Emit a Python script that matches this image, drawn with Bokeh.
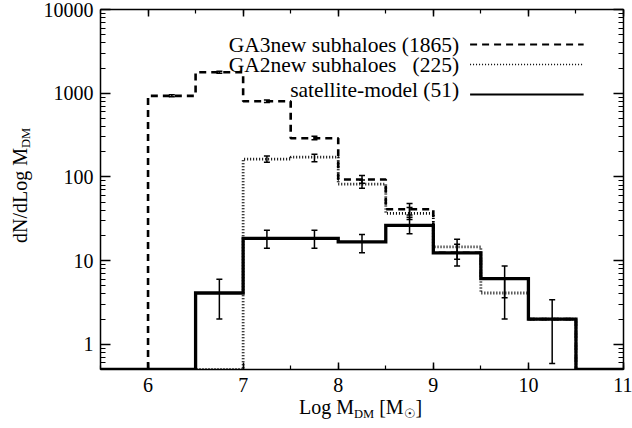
import numpy as np
from bokeh.plotting import figure
from bokeh.layouts import row, column
from bokeh.models import (LinearAxis, LogAxis, Range1d, SingleIntervalTicker, LogTicker,
                          CustomJSTickFormatter, Whisker, TeeHead, ColumnDataSource, Label, Div)
from bokeh.embed import file_html
from bokeh.resources import INLINE

# ---------------- data ----------------
edges = [5.5, 6.0, 6.5, 7.0, 7.5, 8.0, 8.5, 9.0, 9.5, 10.0, 10.5, 11.0]
ga3_values = [0, 930, 1780, 800, 290, 93, 41, 12.4, 6.1, 2.0, 0]
ga2_values = [0, 0, 0, 163, 172, 82, 36.6, 14.6, 4.1, 2.0, 0]
sat_values = [0, 0, 4.1, 18.4, 18.4, 16.7, 26.3, 12.4, 6.1, 2.0, 0]

ga3_err_x = [6.25, 6.75, 7.25, 7.75, 8.25, 8.75]
ga3_err_lo = [905, 1735, 775, 277, 84, 35]
ga3_err_hi = [960, 1830, 830, 305, 104, 48]

ga2_err_x = [7.25, 7.75, 8.25, 8.75, 9.25, 9.75]
ga2_err_lo = [150, 152, 73, 31, 10.4, 2.0]
ga2_err_hi = [178, 187, 92, 43, 18.0, 6.2]

sat_err_x = [6.75, 7.25, 7.75, 8.25, 8.75, 9.25, 9.75, 10.25]
sat_err_lo = [2.0, 14.0, 14.0, 12.4, 21.0, 8.6, 3.6, 0.59]
sat_err_hi = [6.0, 23.1, 23.1, 20.5, 33.0, 15.7, 8.6, 3.4]

legend_labels = ["GA3new subhaloes (1865)",
                 "GA2new subhaloes\u00a0\u00a0 (225)",
                 "satellite-model (51)"]
x_ticks_interval = 1
YMIN, YMAX = 0.5, 10000
XMIN, XMAX = 5.5, 11.0

FONT = "Liberation Serif"

# page geometry (figure starts at page x = 40)
YDIV_W = 40
FIG_W, FIG_H = 592, 400
FRAME_L, FRAME_R, FRAME_T, FRAME_B = 98, 623, 9, 369

# ---------------- figure ----------------
p = figure(width=FIG_W, height=FIG_H, x_range=Range1d(XMIN, XMAX), y_range=Range1d(YMIN, YMAX),
           y_axis_type="log", output_backend="svg", toolbar_location=None,
           min_border_left=FRAME_L - YDIV_W, min_border_right=YDIV_W + FIG_W - FRAME_R,
           min_border_top=FRAME_T, min_border_bottom=FIG_H - FRAME_B)
p.grid.visible = False
p.outline_line_color = None
p.background_fill_color = "white"
p.border_fill_color = "white"


def step_y(vals):
    v = [x if x > 0 else YMIN for x in vals]
    return v + [v[-1]]


p.step(x=edges, y=step_y(ga3_values), mode="after", line_color="black",
       line_width=2.6, line_dash="7 5")
p.step(x=edges, y=step_y(ga2_values), mode="after", line_color="black",
       line_width=2.8, line_dash="1 2")
p.step(x=edges, y=step_y(sat_values), mode="after", line_color="black",
       line_width=3.3, line_join="miter")

for ex, lo, hi in [(ga3_err_x, ga3_err_lo, ga3_err_hi),
                   (ga2_err_x, ga2_err_lo, ga2_err_hi),
                   (sat_err_x, sat_err_lo, sat_err_hi)]:
    src = ColumnDataSource(dict(x=ex, lo=lo, hi=hi))
    w = Whisker(source=src, base="x", lower="lo", upper="hi", dimension="height",
                line_color="black", line_width=1.5,
                upper_head=TeeHead(size=6, line_width=1.5, line_color="black"),
                lower_head=TeeHead(size=6, line_width=1.5, line_color="black"))
    p.add_layout(w)

# ---------------- axes ----------------
def style_axis(ax, major_in, minor_in):
    ax.axis_line_width = 1.5
    ax.axis_line_color = "black"
    ax.major_tick_line_width = 1.5
    ax.minor_tick_line_width = 1.2
    ax.major_tick_in = major_in
    ax.major_tick_out = 0
    ax.minor_tick_in = minor_in
    ax.minor_tick_out = 0
    ax.major_label_text_font = FONT
    ax.major_label_text_font_size = "20px"
    ax.major_label_text_color = "black"


xax = p.xaxis[0]
xax.ticker = SingleIntervalTicker(interval=x_ticks_interval, num_minor_ticks=2)
style_axis(xax, 7, 4)
xax.major_label_standoff = 8

yax = p.yaxis[0]
yax.ticker = LogTicker(mantissas=[1], num_minor_ticks=10)
yax.formatter = CustomJSTickFormatter(code="return String(Math.round(tick))")
style_axis(yax, 10, 5)
yax.major_label_standoff = 7

empty = CustomJSTickFormatter(code="return ''")
top = LinearAxis(ticker=SingleIntervalTicker(interval=x_ticks_interval, num_minor_ticks=2),
                 formatter=empty)
style_axis(top, 7, 4)
top.major_label_text_font_size = "1px"
top.major_label_standoff = 0
p.add_layout(top, "above")

right = LogAxis(ticker=LogTicker(mantissas=[1], num_minor_ticks=10), formatter=empty)
style_axis(right, 10, 5)
right.major_label_text_font_size = "1px"
right.major_label_standoff = 0
p.add_layout(right, "right")


def px_x(px):  # page pixel -> data x
    return XMIN + (px - FRAME_L) * (XMAX - XMIN) / (FRAME_R - FRAME_L)


def px_y(py):  # page pixel -> data y
    dec = (FRAME_B - FRAME_T) / np.log10(YMAX / YMIN)
    return YMIN * 10 ** ((FRAME_B - py) / dec)


# ---------------- legend ----------------
leg_text_y = [px_y(44), px_y(64), px_y(89)]
leg_line_y = [px_y(44), px_y(64), px_y(94)]
leg_dash = ["7 5", "1 2", "solid"]
leg_width = [2.0, 1.5, 2.0]
for t, ty, ly, d, lw in zip(legend_labels, leg_text_y, leg_line_y, leg_dash, leg_width):
    p.add_layout(Label(x=px_x(458), y=ty, text=t, text_font=FONT, text_font_size="21.5px",
                       text_color="black", text_align="right", text_baseline="middle"))
    p.line(x=[px_x(469), px_x(583)], y=[ly, ly], line_color="black", line_width=lw,
           line_dash=d)

# ---------------- axis titles (HTML text with subscripts) ----------------
SUB = "font-size:12.5px;position:relative;top:4px;"
x_title = Div(
    text=("<div style=\"font-family:'Liberation Serif';font-size:20px;line-height:14px;"
          "white-space:nowrap;color:black;padding-left:%dpx;\">"
          "Log M<span style='%s'>DM</span> [M<span style='%s'>\u2609</span>]</div>")
    % (299 - YDIV_W, SUB, SUB),
    width=FIG_W, height=428 - FIG_H, margin=(0, 0, 0, 0))

SUBY = "font-size:12.5px;position:relative;top:3px;"
y_title = Div(
    text=("<div style=\"font-family:'Liberation Serif';font-size:20px;line-height:14px;"
          "white-space:nowrap;color:black;width:max-content;transform-origin:0 0;"
          "transform:translate(13px,243px) rotate(-90deg);\">"
          "dN/dLog M<span style='%s'>DM</span></div>") % SUBY,
    width=YDIV_W, height=428, margin=(0, 0, 0, 0))

layout = row(y_title, column(p, x_title, spacing=0), spacing=0)

open("out.html", "w").write(file_html(layout, INLINE))
